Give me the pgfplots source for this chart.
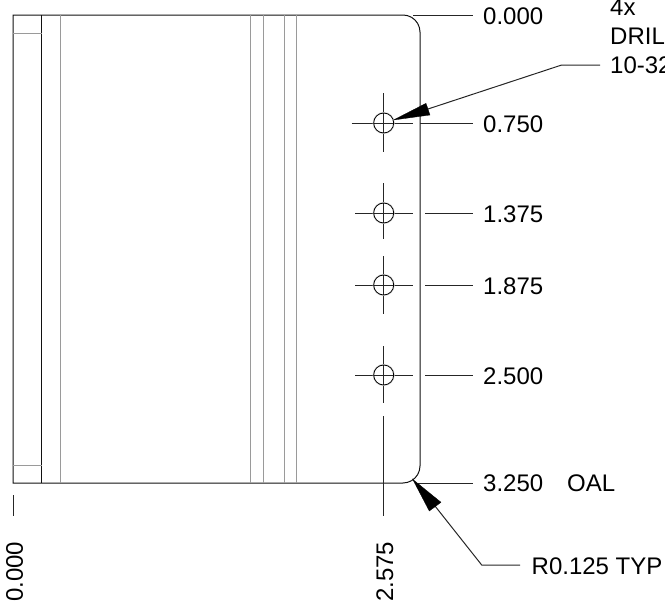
\documentclass[border=0pt]{standalone}
\usepackage{fontspec}
\setmainfont{Liberation Sans}
\usepackage{pgfplots}
\pgfplotsset{compat=1.18}
\definecolor{inkdark}{HTML}{111111}
\definecolor{inklight}{HTML}{9A9A9A}
\pgfplotsset{
  part/.style={inkdark, line width=1pt},
  web/.style={inklight, line width=1pt},
  dim/.style={black!85, line width=1pt},
  head/.style={fill=black, draw=black, line width=0.3pt},
}
\newcommand{\lbl}{\fontsize{24}{29}\selectfont}
\begin{document}
\begin{tikzpicture}
\path[clip, use as bounding box] (0,0) rectangle (665pt,605pt);
\begin{axis}[
    at={(0,0)}, anchor=south west,
    scale only axis, width=665pt, height=605pt,
    xmin=0, xmax=665, ymin=0, ymax=605,
    y dir=reverse,
    hide axis, clip=false,
]
% outline with the two rounded corners
\addplot[part] coordinates {
    (403,483) (13,483) (13,15) (403,15)
    (407.4,15.6) (411.5,17.3) (415,20) (417.7,23.5) (419.4,27.6) (420,32)
    (420,466)
    (419.4,470.4) (417.7,474.5) (415,478) (411.5,480.7) (407.4,482.4) (403,483)
};
% vertical bend lines
\addplot[part] coordinates {(41.7,15) (41.7,483)};
\addplot[web] coordinates {(60,15) (60,483)};
\addplot[web] coordinates {(250,15) (250,483)};
\addplot[web] coordinates {(263,15) (263,483)};
\addplot[web] coordinates {(284,15) (284,483)};
\addplot[web] coordinates {(296.7,15) (296.7,483)};
\addplot[web] coordinates {(13,33) (41.7,33)};
\addplot[web] coordinates {(13,465) (41.7,465)};

% holes
\addplot[only marks, mark=o, mark size=10.6pt, mark options={draw=black!18, line width=0.8pt}] coordinates {
    (383.7,123) (383.7,213) (383.7,285) (383.7,375)
};
\addplot[only marks, mark=o, mark size=10pt, mark options={draw=black, line width=0.8pt}] coordinates {
    (383.7,123) (383.7,213) (383.7,285) (383.7,375)
};

% centre lines
\addplot[dim] coordinates {(351.7,123) (413,123)};
\addplot[dim] coordinates {(355,213) (412.7,213)};
\addplot[dim] coordinates {(355,285) (412.7,285)};
\addplot[dim] coordinates {(355,375) (412.7,375)};
\addplot[dim] coordinates {(383.7,93) (383.7,152)};
\addplot[dim] coordinates {(383.7,183) (383.7,239)};
\addplot[dim] coordinates {(383.7,256) (383.7,314)};
\addplot[dim] coordinates {(383.7,346) (383.7,403)};
\addplot[dim] coordinates {(383.7,416) (383.7,516)};
\addplot[dim] coordinates {(13,495) (13,516)};

% dimension lines
\addplot[dim] coordinates {(413,15) (473,15)};
\addplot[dim] coordinates {(420,123) (473,123)};
\addplot[dim] coordinates {(425,213) (473,213)};
\addplot[dim] coordinates {(425,285) (473,285)};
\addplot[dim] coordinates {(425,375) (473,375)};
\addplot[dim] coordinates {(418,483) (473,483)};

% leaders
\addplot[dim] coordinates {(428,109) (561.7,65) (600,65)};
\addplot[head] coordinates {(393.5,120) (426,103.3) (430,115)} -- cycle;
\addplot[dim] coordinates {(435,506) (481.7,565) (520,565)};
\addplot[head] coordinates {(412.7,479.3) (441,502.3) (429.3,511)} -- cycle;

% labels
\node[anchor=base west, inner sep=0pt] at (axis cs:483,24) {\lbl 0.000};
\node[anchor=base west, inner sep=0pt] at (axis cs:483,132) {\lbl 0.750};
\node[anchor=base west, inner sep=0pt] at (axis cs:483,222) {\lbl 1.375};
\node[anchor=base west, inner sep=0pt] at (axis cs:483,294) {\lbl 1.875};
\node[anchor=base west, inner sep=0pt] at (axis cs:483,384) {\lbl 2.500};
\node[anchor=base west, inner sep=0pt] at (axis cs:483,491) {\lbl 3.250};
\node[anchor=base west, inner sep=0pt] at (axis cs:567,491) {\lbl OAL};
\node[anchor=base west, inner sep=0pt] at (axis cs:531.5,574) {\lbl R0.125 TYP};
\node[anchor=base west, inner sep=0pt] at (axis cs:610,16) {\lbl 4x};
\node[anchor=base west, inner sep=0pt] at (axis cs:610,45) {\lbl DRILL};
\node[anchor=base west, inner sep=0pt] at (axis cs:610,74) {\lbl 10-32};
\node[anchor=base west, inner sep=0pt, rotate=90] at (axis cs:23,602) {\lbl 0.000};
\node[anchor=base west, inner sep=0pt, rotate=90] at (axis cs:393,602) {\lbl 2.575};
\end{axis}
\end{tikzpicture}
\end{document}
